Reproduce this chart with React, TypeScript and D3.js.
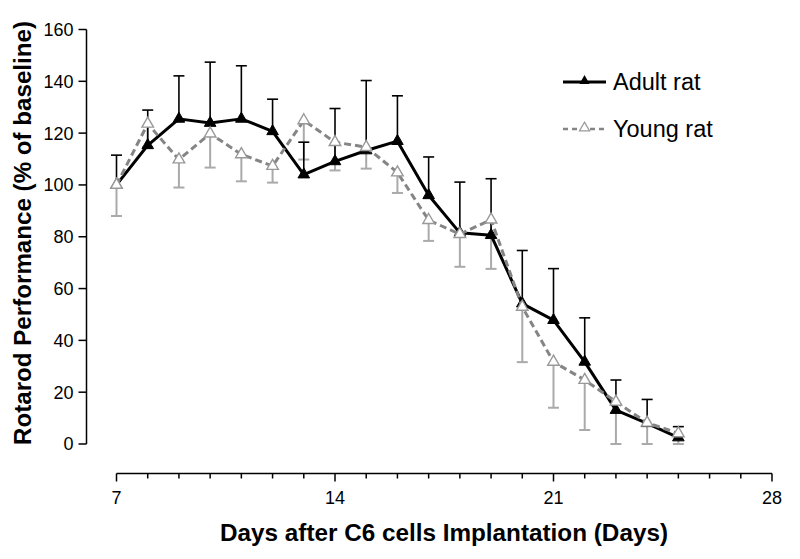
import React from 'react';
import * as d3 from 'd3';

const days = [7, 8, 9, 10, 11, 12, 13, 14, 15, 16, 17, 18, 19, 20, 21, 22, 23, 24, 25];
const adultMean = [100, 115.3, 125.5, 123.9, 125.5, 120.7, 104.0, 109.1, 113.3, 116.9, 96.0, 81.5, 80.6, 54.2, 47.8, 31.7, 13.1, 8.0, 2.5];
const adultSD = [11.5, 13.6, 16.6, 23.5, 20.5, 12.4, 12.5, 20.4, 27.0, 17.5, 14.8, 19.6, 21.8, 20.5, 19.9, 17.0, 11.6, 9.2, 4.2];
const youngMean = [100, 123.6, 109.8, 119.8, 111.8, 107.3, 124.9, 116.5, 114.6, 104.8, 86.4, 81.0, 86.6, 52.9, 31.7, 24.7, 16.3, 8.2, 4.1];
const youngSD = [12.0, 9.0, 10.8, 13.1, 10.4, 6.4, 15.1, 10.9, 8.3, 7.9, 8.0, 12.6, 19.0, 21.3, 17.7, 19.3, 16.3, 8.2, 4.1];
const xTickLabels = [7, 14, 21, 28];
const xMinorTicks = d3.range(7, 29);
const yTickLabels = [0, 20, 40, 60, 80, 100, 120, 140, 160];
const seriesNames = ['Adult rat', 'Young rat'];
const xTitle = 'Days after C6 cells Implantation (Days)';
const yTitle = 'Rotarod Performance (% of baseline)';

const FONT = 'Arial, "Liberation Sans", Helvetica, sans-serif';

export default function App() {
  const W = 800;
  const H = 559;
  const x = d3.scaleLinear().domain([7, 28]).range([116.5, 772]);
  const y = d3.scaleLinear().domain([0, 160]).range([444, 29.5]);
  const axisY = 473.5;
  const axisX = 86.5;

  const lineGen = d3
    .line<number>()
    .x((_, i) => x(days[i]))
    .y((d) => y(d));

  const triPath = d3.symbol().type(d3.symbolTriangle).size(58)() as string;
  const triPathLegend = d3.symbol().type(d3.symbolTriangle).size(45)() as string;
  const capHalf = 5.5;

  return (
    <svg
      width={W}
      height={H}
      viewBox={`0 0 ${W} ${H}`}
      style={{ position: 'absolute', left: 0, top: 0, display: 'block', background: '#fff' }}
    >
      <rect x={0} y={0} width={W} height={H} fill="#fff" />

      {/* Y axis */}
      <line x1={axisX} x2={axisX} y1={y(160)} y2={y(0)} stroke="#000" strokeWidth={1.5} />
      {yTickLabels.map((v) => (
        <g key={`yt${v}`}>
          <line x1={axisX - 8} x2={axisX} y1={y(v)} y2={y(v)} stroke="#000" strokeWidth={1.5} />
          <text
            x={axisX - 13}
            y={y(v)}
            dy="0.36em"
            textAnchor="end"
            fontFamily={FONT}
            fontSize={18}
            fill="#000"
          >
            {v}
          </text>
        </g>
      ))}

      {/* X axis */}
      <line x1={x(7)} x2={x(28)} y1={axisY} y2={axisY} stroke="#000" strokeWidth={1.5} />
      {xMinorTicks.map((d) => {
        const major = xTickLabels.includes(d);
        return (
          <line
            key={`xt${d}`}
            x1={x(d)}
            x2={x(d)}
            y1={axisY}
            y2={axisY + (major ? 8 : 5)}
            stroke="#000"
            strokeWidth={1.5}
          />
        );
      })}
      {xTickLabels.map((d) => (
        <text
          key={`xl${d}`}
          x={x(d)}
          y={503.5}
          textAnchor="middle"
          fontFamily={FONT}
          fontSize={18}
          fill="#000"
        >
          {d}
        </text>
      ))}

      {/* Titles */}
      <text
        x={444}
        y={541}
        textAnchor="middle"
        fontFamily={FONT}
        fontWeight="bold"
        fontSize={23}
        textLength={448}
        lengthAdjust="spacingAndGlyphs"
        fill="#000"
      >
        {xTitle}
      </text>
      <text
        transform="translate(31,233) rotate(-90)"
        textAnchor="middle"
        fontFamily={FONT}
        fontWeight="bold"
        fontSize={23.5}
        textLength={424}
        lengthAdjust="spacingAndGlyphs"
        fill="#000"
      >
        {yTitle}
      </text>

      {/* Young error bars (downward) */}
      {youngMean.map((m, i) => {
        const lo = Math.max(0, m - youngSD[i]);
        const cx = x(days[i]);
        return (
          <g key={`ye${i}`} stroke="#aaaaaa" strokeWidth={2}>
            <line x1={cx} x2={cx} y1={y(m)} y2={y(lo)} />
            <line x1={cx - capHalf} x2={cx + capHalf} y1={y(lo)} y2={y(lo)} />
          </g>
        );
      })}

      {/* Adult error bars (upward) */}
      {adultMean.map((m, i) => {
        const hi = m + adultSD[i];
        const cx = x(days[i]);
        return (
          <g key={`ae${i}`} stroke="#000" strokeWidth={1.6}>
            <line x1={cx} x2={cx} y1={y(m)} y2={y(hi)} />
            <line x1={cx - capHalf} x2={cx + capHalf} y1={y(hi)} y2={y(hi)} />
          </g>
        );
      })}

      {/* Adult line + markers */}
      <path d={lineGen(adultMean) as string} fill="none" stroke="#000" strokeWidth={3} strokeLinejoin="round" />
      {adultMean.map((m, i) => (
        <path key={`am${i}`} d={triPath} transform={`translate(${x(days[i])},${y(m)})`} fill="#000" stroke="#000" strokeWidth={1} />
      ))}

      {/* Young line + markers */}
      <path
        d={lineGen(youngMean) as string}
        fill="none"
        stroke="#858585"
        strokeWidth={3}
        strokeDasharray="7,4"
      />
      {youngMean.map((m, i) => (
        <path key={`ym${i}`} d={triPath} transform={`translate(${x(days[i])},${y(m)})`} fill="#fff" stroke="#999999" strokeWidth={1.4} />
      ))}

      {/* Legend */}
      <g>
        <line x1={563} x2={606} y1={82} y2={82} stroke="#000" strokeWidth={3} />
        <path d={triPathLegend} transform="translate(584.5,81)" fill="#000" />
        <text x={613} y={90} fontFamily={FONT} fontSize={23.5} fill="#000">
          {seriesNames[0]}
        </text>
        <line x1={563} x2={606} y1={129} y2={129} stroke="#858585" strokeWidth={2.5} strokeDasharray="5,4" />
        <path d={triPathLegend} transform="translate(584.5,128)" fill="#fff" stroke="#999999" strokeWidth={1.2} />
        <text x={613} y={137} fontFamily={FONT} fontSize={23.5} fill="#000">
          {seriesNames[1]}
        </text>
      </g>
    </svg>
  );
}
